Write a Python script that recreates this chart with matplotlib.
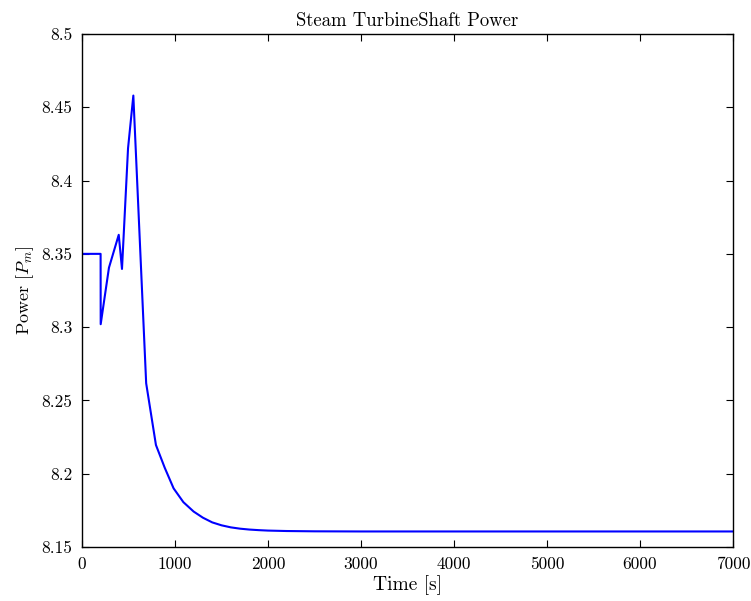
import matplotlib
matplotlib.use("Agg")
import matplotlib.pyplot as plt
from matplotlib.ticker import FuncFormatter

plt.rcParams['font.family'] = 'serif'
plt.rcParams['font.serif'] = ['cmr10']
plt.rcParams['mathtext.fontset'] = 'cm'
plt.rcParams['axes.unicode_minus'] = False

time_s = [0, 200, 201, 290, 395, 430, 495, 552, 690, 795, 890, 985, 1090, 1200,
          1300, 1400, 1500, 1600, 1700, 1800, 1900, 2000, 2200, 2500, 3000, 7000]
power = [8.350, 8.350, 8.302, 8.3406, 8.363, 8.3397, 8.422, 8.458, 8.2617, 8.2196,
         8.204, 8.190, 8.1806, 8.1742, 8.1700, 8.1668, 8.1648, 8.1634, 8.1625,
         8.1619, 8.1615, 8.1612, 8.1609, 8.1607, 8.1606, 8.1606]

xticks = [0, 1000, 2000, 3000, 4000, 5000, 6000, 7000]
yticks = [8.15, 8.2, 8.25, 8.3, 8.35, 8.4, 8.45, 8.5]

fig = plt.figure(figsize=(7.51, 6.01), dpi=100)
ax = fig.add_axes([82/751, 54/601, 651/751, 513/601])
ax.plot(time_s, power, color='#0000ff', linewidth=1.5)
ax.set_xlim(0, 7000)
ax.set_ylim(8.15, 8.5)
ax.set_xticks(xticks)
ax.set_yticks(yticks)
ax.yaxis.set_major_formatter(FuncFormatter(lambda v, p: '%g' % round(v, 4)))
ax.tick_params(direction='in', top=True, right=True, length=5, width=0.8, labelsize=12.5, pad=7)
for s in ax.spines.values():
    s.set_linewidth(1.0)
ax.set_title('Steam TurbineShaft Power', fontsize=13.5, pad=6)
ax.set_xlabel('Time [s]', fontsize=14, labelpad=2)
ax.set_ylabel('Power [$P_m$]', fontsize=13, labelpad=4)
fig.savefig('out.png', dpi=100)
